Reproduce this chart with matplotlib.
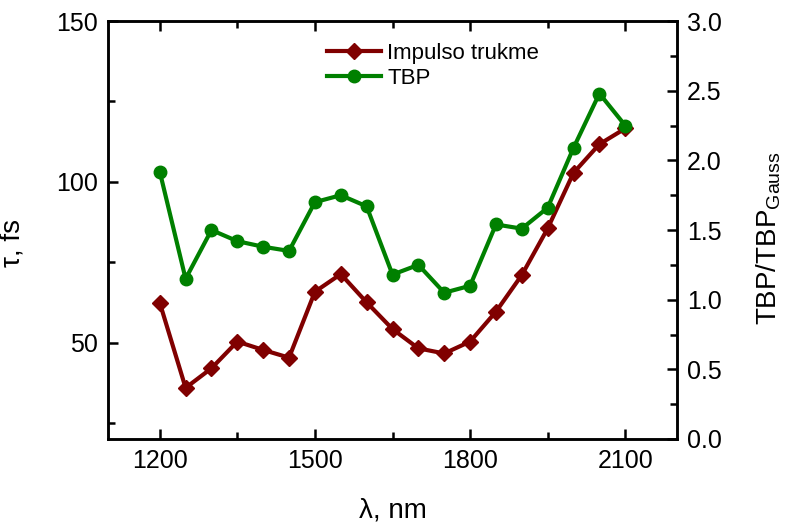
import numpy as np
import matplotlib
matplotlib.use("Agg")
from matplotlib import pyplot as plt
from matplotlib.ticker import MultipleLocator

# wavelength (nm)
wavelength = [1200, 1250, 1300, 1350, 1400, 1450, 1500, 1550, 1600, 1650,
              1700, 1750, 1800, 1850, 1900, 1950, 2000, 2050, 2100]
# pulse duration, fs (left axis)
tau = [62.4, 35.9, 42.0, 50.3, 47.7, 45.3, 65.8, 71.3, 62.5, 54.2,
       48.2, 46.6, 50.3, 59.6, 71.0, 85.5, 102.8, 111.7, 116.6]
# TBP / TBP_Gauss (right axis)
tbp = [1.92, 1.15, 1.50, 1.42, 1.38, 1.35, 1.70, 1.75, 1.67, 1.18,
       1.25, 1.05, 1.10, 1.54, 1.51, 1.66, 2.09, 2.48, 2.25]

plt.rcParams['font.family'] = ['Liberation Sans', 'DejaVu Sans']
plt.rcParams['mathtext.fontset'] = 'custom'
plt.rcParams['mathtext.rm'] = 'Liberation Sans'

red = '#800000'
green = '#008000'

fig = plt.figure(figsize=(7.85, 5.27), dpi=100)
ax = fig.add_axes([0.1376, 0.167, 0.7248, 0.793])
ax2 = ax.twinx()

l1, = ax.plot(wavelength, tau, color=red, lw=3.0, marker='D', ms=8.5, label='Impulso trukme')
l2, = ax2.plot(wavelength, tbp, color=green, lw=3.0, marker='o', ms=9, label='TBP')

ax.set_xlim(1100, 2200)
ax.set_ylim(20, 150)
ax2.set_ylim(0, 3.0)

ax.xaxis.set_major_locator(MultipleLocator(300))
ax.xaxis.set_minor_locator(MultipleLocator(150))
ax.yaxis.set_major_locator(MultipleLocator(50))
ax.yaxis.set_minor_locator(MultipleLocator(25))
ax2.yaxis.set_major_locator(MultipleLocator(0.5))
ax2.yaxis.set_minor_locator(MultipleLocator(0.25))
ax2.yaxis.set_major_formatter(matplotlib.ticker.FormatStrFormatter('%.1f'))

ax.tick_params(axis='x', which='both', direction='in', top=True, labelsize=18, pad=7)
ax.tick_params(axis='y', which='both', direction='in', right=False, labelsize=18, pad=7)
ax2.tick_params(axis='y', which='both', direction='in', labelsize=18, pad=7)
for a in (ax, ax2):
    a.tick_params(which='major', length=7, width=1.8)
    a.tick_params(which='minor', length=5, width=1.8)
    for s in a.spines.values():
        s.set_linewidth(1.8)

ax.set_xlabel('λ, nm', fontsize=20)
ax.xaxis.set_label_coords(0.5, -0.14)
ax.set_ylabel('τ, fs', fontsize=20)
ax.yaxis.set_label_coords(-0.145, 0.47)
ax2.set_ylabel(r'TBP/TBP$_{\mathrm{Gauss}}$', fontsize=20)
ax2.yaxis.set_label_coords(1.135, 0.48)

ax.legend((l1, l2), ('Impulso trukme', 'TBP'), loc='upper left',
          bbox_to_anchor=(0.37, 0.97), frameon=False, fontsize=16,
          handlelength=2.4, handletextpad=0.3, labelspacing=0.2, borderaxespad=0)

fig.savefig('out.png', dpi=100)
